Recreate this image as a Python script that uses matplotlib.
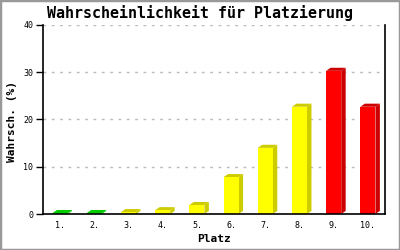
import matplotlib
matplotlib.use("Agg")
import matplotlib.pyplot as plt
from matplotlib.patches import Polygon, Rectangle
import numpy as np

platz = ["1.", "2.", "3.", "4.", "5.", "6.", "7.", "8.", "9.", "10."]
wahrsch = [0.2, 0.2, 0.4, 0.8, 1.9, 7.8, 14.0, 22.7, 30.3, 22.7]
front_colors = ["#00dd00", "#00dd00", "#ffff00", "#ffff00", "#ffff00",
                "#ffff00", "#ffff00", "#ffff00", "#ff0000", "#ff0000"]
shade_colors = ["#00cc00", "#00cc00", "#cccc00", "#cccc00", "#cccc00",
                "#cccc00", "#cccc00", "#cccc00", "#cc0000", "#cc0000"]

plt.rcParams["font.family"] = ["DejaVu Sans Mono"]

fig = plt.figure(figsize=(4, 2.5), dpi=100)
ax = fig.add_axes([43 / 400, 36 / 250, 342 / 400, 189 / 250])

x = np.arange(len(platz))
bar_w = 0.44
dx = 0.13
dy = 0.65

for i, v in enumerate(wahrsch):
    x0 = x[i] - bar_w / 2
    x1 = x[i] + bar_w / 2
    # side face
    ax.add_patch(Polygon([(x1, 0), (x1 + dx, dy), (x1 + dx, v + dy), (x1, v)],
                         closed=True, facecolor=shade_colors[i], edgecolor="none", zorder=3))
    # top face
    ax.add_patch(Polygon([(x0, v), (x0 + dx, v + dy), (x1 + dx, v + dy), (x1, v)],
                         closed=True, facecolor=shade_colors[i], edgecolor="none", zorder=3))

ax.bar(x, wahrsch, width=bar_w, color=front_colors, zorder=4)

ax.set_xlim(-0.5, 9.5)
ax.set_ylim(0, 40)
ax.set_yticks([0, 10, 20, 30, 40])
ax.set_xticks(x)
ax.set_xticklabels(platz)
ax.tick_params(axis="y", length=5, width=1, labelsize=6, pad=2)
ax.tick_params(axis="x", length=0, labelsize=6, pad=5)
ax.yaxis.grid(True, linestyle=(0, (2, 4)), color="#bbbbbb", linewidth=1, zorder=0)
ax.set_axisbelow(True)
ax.spines["top"].set_visible(False)
for s in ["left", "bottom", "right"]:
    ax.spines[s].set_linewidth(1.2)
    ax.spines[s].set_zorder(5)

ax.set_xlabel("Platz", fontsize=8, fontweight="bold", labelpad=3)
ax.set_ylabel("Wahrsch. (%)", fontsize=8, fontweight="bold", va="center")
ax.yaxis.set_label_coords(-31 / 342, 0.49)
fig.text(0.5, 0.948, "Wahrscheinlichkeit für Platzierung", ha="center", va="center",
         fontsize=10.8, fontweight="bold")

fig.patches.append(Rectangle((0, 0), 1, 1, transform=fig.transFigure, fill=False,
                             edgecolor="#999999", linewidth=2.5))

fig.savefig("out.png", dpi=100)
